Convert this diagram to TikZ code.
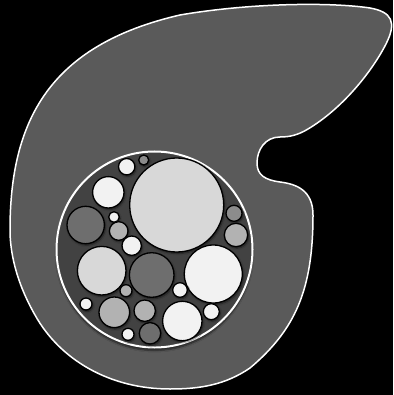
\documentclass[tikz,border=0pt]{standalone}
\usetikzlibrary{shadows.blur}
\definecolor{blobc}{HTML}{5A5A5A}
\definecolor{wellc}{HTML}{424242}
\definecolor{cLight}{HTML}{D8D8D8}
\definecolor{cWhite}{HTML}{F2F2F2}
\definecolor{cDark}{HTML}{6E6E6E}
\definecolor{cGray}{HTML}{B2B2B2}
\definecolor{cMid}{HTML}{8C8C8C}
\tikzset{
  blob/.style={fill=blobc, draw=white, line width=1.5pt},
  well/.style={fill=wellc, draw=white, line width=2pt,
     blur shadow={shadow xshift=0pt, shadow yshift=-3pt, shadow opacity=60, shadow blur steps=6}},
  ball/.style={fill=#1, draw=black, line width=1.3pt,
     blur shadow={shadow xshift=1pt, shadow yshift=-1.5pt, shadow opacity=55, shadow blur steps=5}}
}
\begin{document}
\begin{tikzpicture}[x=1pt,y=-1pt]
\fill[black] (0,0) rectangle (393,395);
\useasboundingbox (0,0) rectangle (393,395);
% outer blob
\draw[blob] (10,230) .. controls (10,120) and (50,45) .. (180,15)
  .. controls (250,3) and (330,2) .. (370,8)
  .. controls (392,12) and (397,22) .. (386,44)
  .. controls (370,75) and (340,110) .. (308,129)
  .. controls (298,135) and (290,137) .. (280,137)
  .. controls (265,137) and (257,150) .. (257,163)
  .. controls (257,175) and (265,180) .. (280,182)
  .. controls (296,184) and (313,190) .. (313,215)
  .. controls (313,290) and (295,330) .. (250,368)
  .. controls (225,385) and (200,389) .. (170,389)
  .. controls (110,389) and (60,360) .. (35,315)
  .. controls (15,280) and (10,250) .. (10,230) -- cycle;
% container
\draw[well] (154.5,249.5) circle[radius=98pt];
% balls
\draw[ball=cLight] (176.7,205) circle[radius=47pt];
\draw[ball=cWhite] (213.3,274) circle[radius=29pt];
\draw[ball=cLight] (101.7,270.7) circle[radius=24.3pt];
\draw[ball=cDark] (151.7,275) circle[radius=22.3pt];
\draw[ball=cDark] (85.7,225) circle[radius=18.7pt];
\draw[ball=cWhite] (108.3,192.3) circle[radius=15.7pt];
\draw[ball=cWhite] (126.7,166.7) circle[radius=8.2pt];
\draw[ball=cMid] (143.7,160) circle[radius=5pt];
\draw[ball=cWhite] (114,217) circle[radius=5.3pt];
\draw[ball=cGray] (118.7,231) circle[radius=9.3pt];
\draw[ball=cWhite] (131.7,245.7) circle[radius=9.7pt];
\draw[ball=cMid] (234,213.3) circle[radius=8pt];
\draw[ball=cGray] (236,235) circle[radius=11.7pt];
\draw[ball=cWhite] (180,290) circle[radius=7.3pt];
\draw[ball=cGray] (126,290.7) circle[radius=6pt];
\draw[ball=cWhite] (86,304) circle[radius=6pt];
\draw[ball=cGray] (114.3,312.3) circle[radius=15.3pt];
\draw[ball=cGray] (144.7,310.7) circle[radius=10.7pt];
\draw[ball=cWhite] (182.3,321) circle[radius=19.7pt];
\draw[ball=cWhite] (211.3,311.7) circle[radius=8pt];
\draw[ball=cWhite] (128,334.3) circle[radius=6pt];
\draw[ball=cDark] (150,333.3) circle[radius=10.7pt];
\end{tikzpicture}
\end{document}
